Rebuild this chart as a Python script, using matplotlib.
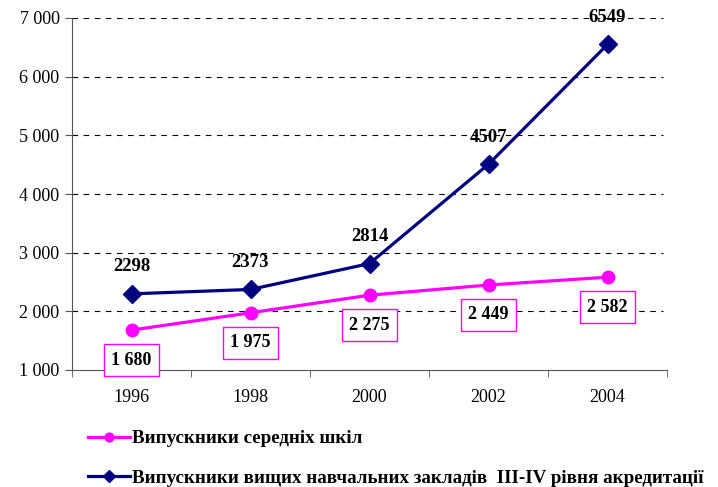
import matplotlib
matplotlib.use("Agg")
import matplotlib.pyplot as plt
from matplotlib.ticker import FuncFormatter

years = ["1996", "1998", "2000", "2002", "2004"]
school_grads = [1680, 1975, 2275, 2449, 2582]
uni_grads = [2298, 2373, 2814, 4507, 6549]
school_label = "Випускники середніх шкіл"
uni_label = "Випускники вищих навчальних закладів  III-IV рівня акредитації"

PINK = "#FF00FF"
NAVY = "#000080"

plt.rcParams["font.family"] = ["Liberation Serif", "DejaVu Serif"]

fig = plt.figure(figsize=(7.18, 4.87), dpi=100)
ax = fig.add_axes([72 / 718, 1 - 370 / 487, 595 / 718, 352 / 487])

x = list(range(len(years)))
ax.plot(x, school_grads, color=PINK, lw=2.3, marker="o", ms=9,
        label=school_label, zorder=3)
ax.plot(x, uni_grads, color=NAVY, lw=2.3, marker="D", ms=9,
        label=uni_label, zorder=3)

for xi, v in zip(x, school_grads):
    txt = f"{v:,}".replace(",", " ")
    ax.annotate(txt, (xi, v), xytext=(0, -21.6), textcoords="offset points",
                ha="center", va="center", fontsize=13, fontweight="bold",
                bbox=dict(boxstyle="square,pad=0.4", fc="white", ec=PINK, lw=1))

for xi, v in zip(x, uni_grads):
    ax.annotate(str(v), (xi, v), xytext=(0, 19.5), textcoords="offset points",
                ha="center", va="center", fontsize=13.5, fontweight="bold")

ax.set_xlim(-0.5, 4.5)
ax.set_ylim(1000, 7000)
ax.set_yticks(range(1000, 7001, 1000))
ax.yaxis.set_major_formatter(FuncFormatter(lambda v, p: f"{int(v):,}".replace(",", " ")))
ax.set_xticks(x)
ax.set_xticklabels(years)
ax.set_xticks([i - 0.5 for i in range(len(years) + 1)], minor=True)
ax.tick_params(axis="x", which="major", length=0, pad=14, labelsize=13)
ax.tick_params(axis="x", which="minor", length=5, direction="out", color="#555555")
ax.tick_params(axis="y", length=5, direction="out", color="#555555", labelsize=13, pad=4)

for y in range(2000, 7001, 1000):
    ax.axhline(y, xmin=0, xmax=0.993, color="black", lw=0.8, ls=(0, (5, 5)), zorder=1)

for side in ["top", "right"]:
    ax.spines[side].set_visible(False)
for side in ["left", "bottom"]:
    ax.spines[side].set_color("#555555")

fig.legend(loc="upper left", bbox_to_anchor=(71 / 718, 1 - 413 / 487),
           frameon=False, handlelength=2.2, labelspacing=1.15, handletextpad=0.1,
           markerscale=0.7, prop={"weight": "bold", "size": 13.7})

fig.savefig("out.png", dpi=100)
